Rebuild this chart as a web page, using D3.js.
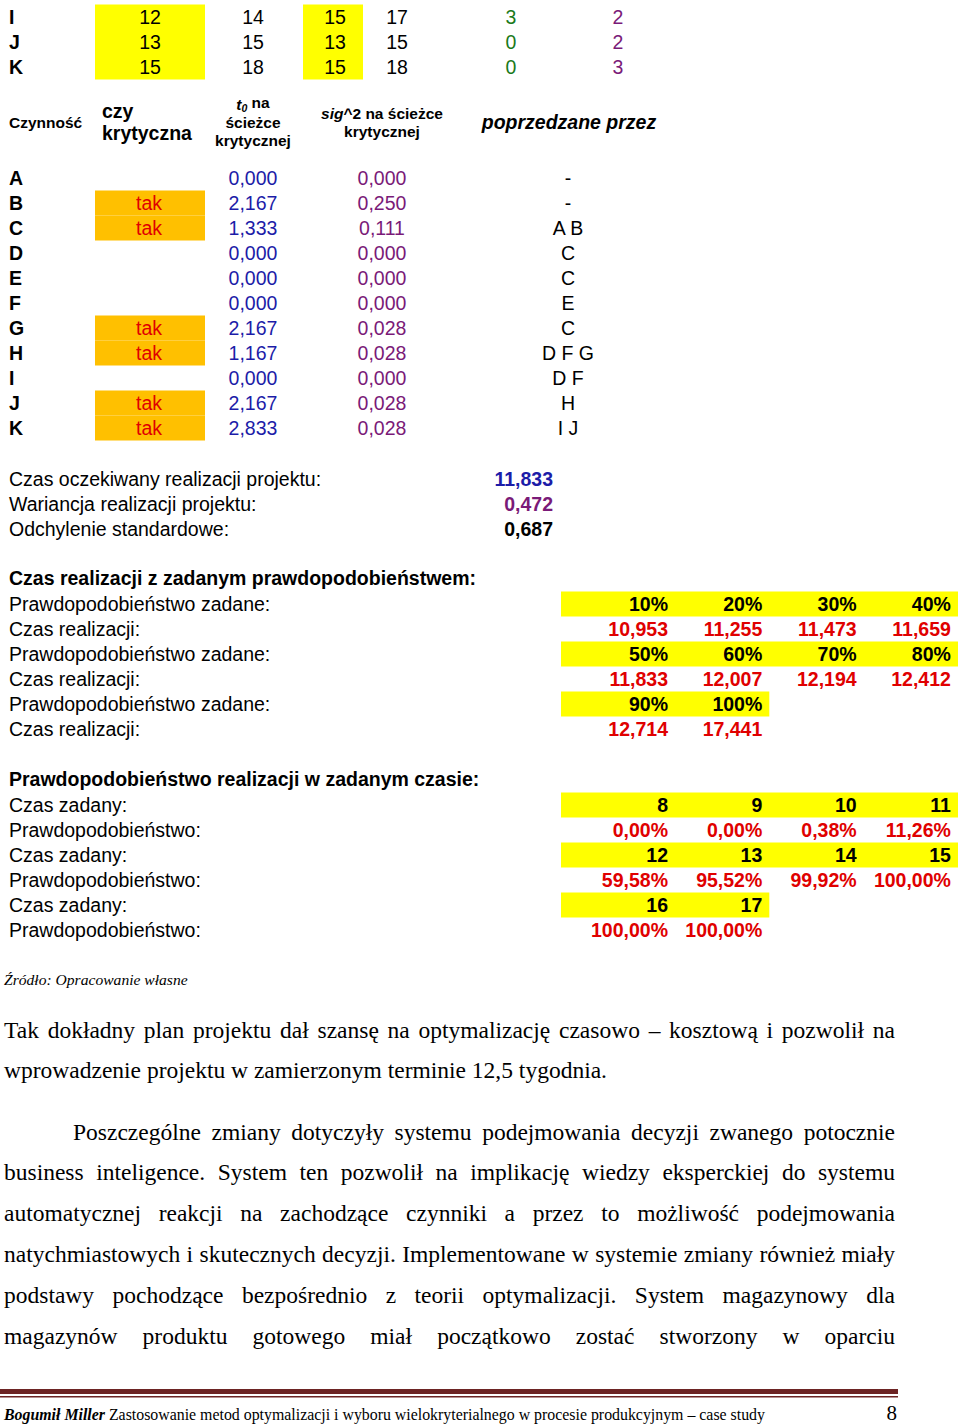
<!DOCTYPE html>
<html><head><meta charset="utf-8">
<script src="https://cdn.jsdelivr.net/npm/d3@7"></script>
<style>
html,body{margin:0;padding:0;background:#fff;}
svg{display:block;}
</style></head>
<body>
<script>
// ---------- DATA ----------
const topLetters = ["I","J","K"];
const topEarlyStart = [12,13,15];
const topEarlyFinish = [14,15,18];
const topLateStart = [15,13,15];
const topLateFinish = [17,15,18];
const topSlack = [3,0,0];
const topPredCount = [2,2,3];

const headerCols = [
  {lines:["Czynność"], kind:"czyn"},
  {lines:["czy","krytyczna"], kind:"big"},
  {lines:["t0 na","ścieżce","krytycznej"], kind:"small"},
  {lines:["sig^2 na ścieżce","krytycznej"], kind:"small"},
  {lines:["poprzedzane przez"], kind:"bi"}
];

const activities = ["A","B","C","D","E","F","G","H","I","J","K"];
const critical = ["","tak","tak","","","","tak","tak","","tak","tak"];
const t0Path = ["0,000","2,167","1,333","0,000","0,000","0,000","2,167","1,167","0,000","2,167","2,833"];
const sigPath = ["0,000","0,250","0,111","0,000","0,000","0,000","0,028","0,028","0,000","0,028","0,028"];
const predecessors = ["-","-","A B","C","C","E","C","D F G","D F","H","I J"];

const summaryLabels = ["Czas oczekiwany realizacji projektu:","Wariancja realizacji projektu:","Odchylenie standardowe:"];
const summaryValues = ["11,833","0,472","0,687"];

const probTitle = "Czas realizacji z zadanym prawdopodobieństwem:";
const probGiven = ["10%","20%","30%","40%","50%","60%","70%","80%","90%","100%"];
const timeForProb = ["10,953","11,255","11,473","11,659","11,833","12,007","12,194","12,412","12,714","17,441"];

const timeTitle = "Prawdopodobieństwo realizacji w zadanym czasie:";
const timeGiven = ["8","9","10","11","12","13","14","15","16","17"];
const probForTime = ["0,00%","0,00%","0,38%","11,26%","59,58%","95,52%","99,92%","100,00%","100,00%","100,00%"];

const sourceText = "Źródło: Opracowanie własne";
const para1 = [
  {text:"Tak dokładny plan projektu dał szansę na optymalizację czasowo – kosztową i pozwolił na", justify:true, indent:false},
  {text:"wprowadzenie projektu w zamierzonym terminie 12,5 tygodnia.", justify:false, indent:false}
];
const para2 = [
  {text:"Poszczególne zmiany dotyczyły systemu podejmowania decyzji zwanego potocznie", justify:true, indent:true},
  {text:"business inteligence. System ten pozwolił na implikację wiedzy eksperckiej do systemu", justify:true, indent:false},
  {text:"automatycznej reakcji na zachodzące czynniki a przez to możliwość podejmowania", justify:true, indent:false},
  {text:"natychmiastowych i skutecznych decyzji. Implementowane w systemie zmiany również miały", justify:true, indent:false},
  {text:"podstawy pochodzące bezpośrednio z teorii optymalizacji. System magazynowy dla", justify:true, indent:false},
  {text:"magazynów produktu gotowego miał początkowo zostać stworzony w oparciu", justify:true, indent:false}
];
const footerAuthor = "Bogumił Miller";
const footerTitle = " Zastosowanie metod optymalizacji i wyboru wielokryterialnego w procesie produkcyjnym – case study";
const pageNumber = "8";

// ---------- STYLE ----------
const W = 960, H = 1424;
const SANS = "'Liberation Sans', Arial, sans-serif";
const SERIF = "'Liberation Serif', 'Times New Roman', serif";
const FS = 19.5;
const C = {yellow:"#ffff00", orange:"#ffc000", red:"#e00000", blue:"#1c1ca8", purple:"#7a1a78",
           green:"#1a7a1a", black:"#000", maroon:"#6d2424"};

const svg = d3.select("body").append("svg").attr("width",W).attr("height",H)
  .attr("viewBox",`0 0 ${W} ${H}`);

function txt(g, x, y, s, o={}) {
  return g.append("text").attr("x",x).attr("y",y).attr("dy","0.36em")
    .attr("font-family",o.family||SANS).attr("font-size",o.size||FS)
    .attr("font-weight",o.weight||"normal").attr("font-style",o.style||"normal")
    .attr("fill",o.fill||C.black).attr("text-anchor",o.anchor||"start").text(s);
}

// ---------- TOP ROWS (I,J,K) ----------
const topY = d3.scaleLinear().domain([0,1]).range([17,42]);
const rowH = 25;
const topColX = d3.scaleOrdinal().domain(["es","ef","ls","lf","sl","pc"]).range([150,253,335,397,511,618]);
const topBoxes = [{x0:95,x1:205},{x0:303,x1:363}];
const gTop = svg.append("g");
topBoxes.forEach(b => gTop.append("rect").attr("x",b.x0).attr("width",b.x1-b.x0)
  .attr("y",topY(0)-rowH/2).attr("height",topY(topLetters.length)-topY(0)).attr("fill",C.yellow));
topLetters.forEach((l,i)=>{
  const y = topY(i);
  txt(gTop,9,y,l,{weight:"bold"});
  txt(gTop,topColX("es"),y,topEarlyStart[i],{anchor:"middle"});
  txt(gTop,topColX("ef"),y,topEarlyFinish[i],{anchor:"middle"});
  txt(gTop,topColX("ls"),y,topLateStart[i],{anchor:"middle"});
  txt(gTop,topColX("lf"),y,topLateFinish[i],{anchor:"middle"});
  txt(gTop,topColX("sl"),y,topSlack[i],{anchor:"middle",fill:C.green});
  txt(gTop,topColX("pc"),y,topPredCount[i],{anchor:"middle",fill:C.purple});
});

// ---------- HEADER ----------
const gH = svg.append("g");
txt(gH,9,122,headerCols[0].lines[0],{weight:"bold",size:15.5});
headerCols[1].lines.forEach((l,i)=>txt(gH,102,111+i*22,l,{weight:"bold",size:19.5}));
(function(){
  const lines = headerCols[2].lines;
  const t = gH.append("text").attr("x",253).attr("y",104).attr("dy","0.36em").attr("text-anchor","middle")
    .attr("font-family",SANS).attr("font-size",15.5).attr("font-weight","bold");
  t.append("tspan").attr("font-style","italic").text("t");
  t.append("tspan").attr("font-style","italic").attr("font-size",10.5).attr("dy","0.25em").text("0");
  t.append("tspan").attr("dy","-0.25em").text(lines[0].slice(2));
  txt(gH,253,122,lines[1],{weight:"bold",size:15.5,anchor:"middle"});
  txt(gH,253,140,lines[2],{weight:"bold",size:15.5,anchor:"middle"});
  const s = gH.append("text").attr("x",382).attr("y",113).attr("dy","0.36em").attr("text-anchor","middle")
    .attr("font-family",SANS).attr("font-size",15.5).attr("font-weight","bold");
  s.append("tspan").attr("font-style","italic").text("sig");
  s.append("tspan").text(headerCols[3].lines[0].slice(3));
  txt(gH,382,131,headerCols[3].lines[1],{weight:"bold",size:15.5,anchor:"middle"});
})();
txt(gH,569,122,headerCols[4].lines[0],{weight:"bold",style:"italic",size:19.5,anchor:"middle"});

// ---------- MAIN TABLE ----------
const actY = d3.scaleLinear().domain([0,1]).range([178,203]);
const actColX = d3.scaleOrdinal().domain(["crit","t0","sig","pred"]).range([149,253,382,568]);
const gT = svg.append("g");
activities.forEach((a,i)=>{
  if (critical[i]) gT.append("rect").attr("x",95).attr("width",110)
    .attr("y",actY(i)-rowH/2).attr("height",rowH).attr("fill",C.orange);
});
activities.forEach((a,i)=>{
  const y = actY(i);
  txt(gT,9,y,a,{weight:"bold"});
  if (critical[i]) txt(gT,actColX("crit"),y,critical[i],{anchor:"middle",fill:C.red});
  txt(gT,actColX("t0"),y,t0Path[i],{anchor:"middle",fill:C.blue});
  txt(gT,actColX("sig"),y,sigPath[i],{anchor:"middle",fill:C.purple});
  txt(gT,actColX("pred"),y,predecessors[i],{anchor:"middle"});
});

// ---------- SUMMARY ----------
const sumY = d3.scaleLinear().domain([0,1]).range([479,504]);
const sumColors = [C.blue,C.purple,C.black];
const gS = svg.append("g");
summaryLabels.forEach((l,i)=>{
  txt(gS,9,sumY(i),l);
  txt(gS,553,sumY(i),summaryValues[i],{anchor:"end",weight:"bold",fill:sumColors[i]});
});

// ---------- GRID SECTIONS ----------
const gridColRight = d3.scaleLinear().domain([0,1]).range([668,762.3]);
function gridSection(titleY, title, labA, valsA, labB, valsB) {
  const g = svg.append("g");
  const y = d3.scaleLinear().domain([0,1]).range([titleY+26,titleY+51]);
  txt(g,9,titleY,title,{weight:"bold"});
  const nRows = Math.ceil(valsA.length/4);
  for (let r=0;r<nRows;r++){
    const a = valsA.slice(r*4,r*4+4), b = valsB.slice(r*4,r*4+4);
    const ya = y(2*r), yb = y(2*r+1);
    const right = a.length===4 ? 958 : gridColRight(a.length-1)+7;
    g.append("rect").attr("x",561).attr("width",right-561).attr("y",ya-rowH/2).attr("height",rowH).attr("fill",C.yellow);
    txt(g,9,ya,labA);
    txt(g,9,yb,labB);
    a.forEach((v,j)=>txt(g,gridColRight(j),ya,v,{anchor:"end",weight:"bold"}));
    b.forEach((v,j)=>txt(g,gridColRight(j),yb,v,{anchor:"end",weight:"bold",fill:C.red}));
  }
}
gridSection(578, probTitle, "Prawdopodobieństwo zadane:", probGiven, "Czas realizacji:", timeForProb);
gridSection(779, timeTitle, "Czas zadany:", timeGiven, "Prawdopodobieństwo:", probForTime);

// ---------- SOURCE ----------
txt(svg,4,979,sourceText,{family:SERIF,style:"italic",size:15.6});

// ---------- PARAGRAPHS ----------
const PFS = 23.5;
function paraLine(yc, line) {
  const x0 = line.indent ? 73 : 4, x1 = 895;
  const t = svg.append("text").attr("y",yc).attr("dy","0.32em")
    .attr("font-family",SERIF).attr("font-size",PFS).attr("fill",C.black);
  if (!line.justify) { t.attr("x",x0).text(line.text); return; }
  const words = line.text.split(" ");
  const widths = words.map(w=>{
    const m = svg.append("text").attr("font-family",SERIF).attr("font-size",PFS).text(w);
    const wd = m.node().getComputedTextLength(); m.remove(); return wd;
  });
  const gap = (x1-x0-d3.sum(widths))/(words.length-1);
  let x = x0;
  words.forEach((w,i)=>{ t.append("tspan").attr("x",x).text(w); x += widths[i]+gap; });
}
const paraY = d3.scaleLinear().domain([0,1]).range([1030,1070.8]);
para1.forEach((l,i)=>paraLine(paraY(i),l));
const para2Y = d3.scaleLinear().domain([0,1]).range([1132,1172.8]);
para2.forEach((l,i)=>paraLine(para2Y(i),l));

// ---------- FOOTER ----------
svg.append("rect").attr("x",0).attr("y",1389).attr("width",898).attr("height",5).attr("fill",C.maroon);
svg.append("rect").attr("x",0).attr("y",1396).attr("width",898).attr("height",1.5).attr("fill",C.maroon);
const ft = svg.append("text").attr("x",4).attr("y",1420).attr("font-family",SERIF).attr("font-size",16.5).attr("fill",C.black);
ft.append("tspan").attr("font-weight","bold").attr("font-style","italic").text(footerAuthor);
ft.append("tspan").text(footerTitle);
ft.attr("textLength",761).attr("lengthAdjust","spacingAndGlyphs");
svg.append("text").attr("x",897).attr("y",1420).attr("text-anchor","end").attr("font-family",SERIF)
  .attr("font-size",21).attr("fill",C.black).text(pageNumber);
</script>
</body></html>
